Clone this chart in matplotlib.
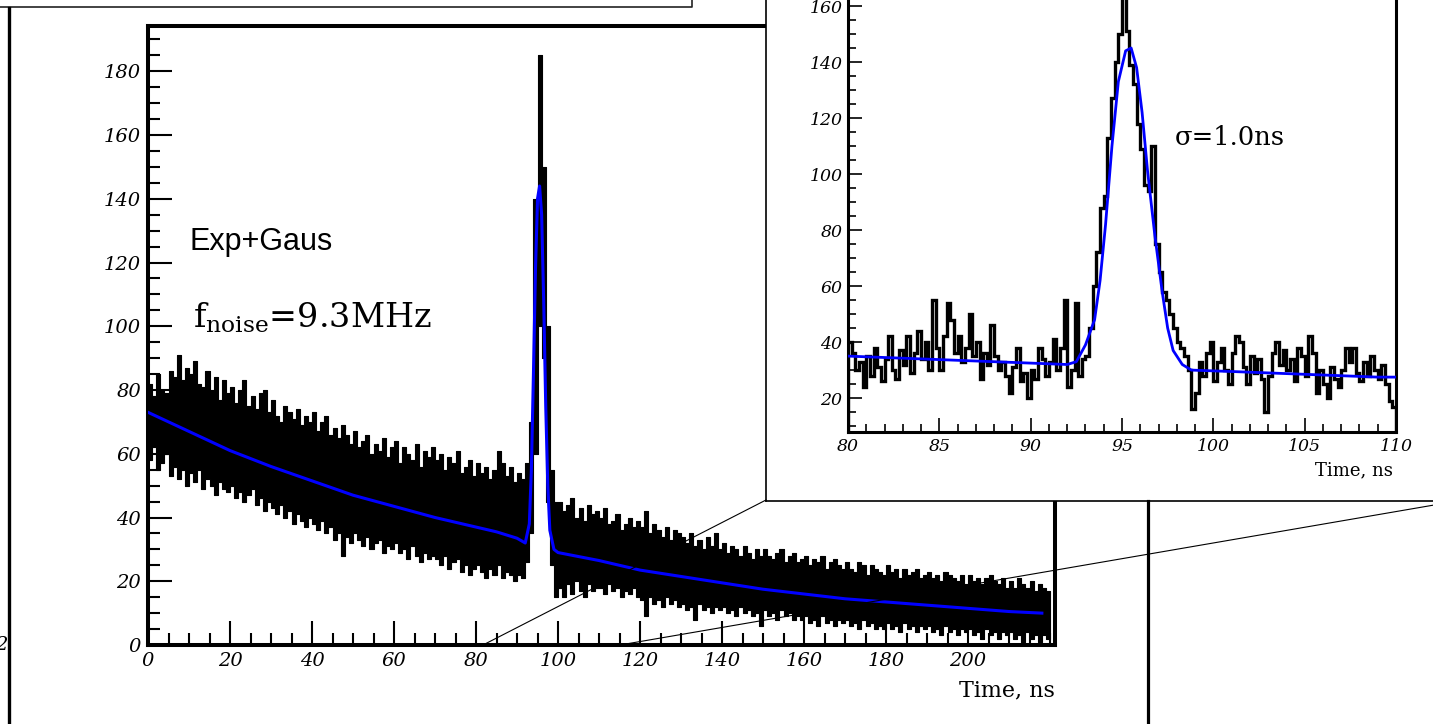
import numpy as np
import matplotlib
matplotlib.use("Agg")
import matplotlib.pyplot as plt
from matplotlib.lines import Line2D
from matplotlib.ticker import MultipleLocator, FixedLocator

# ---------------- data ----------------
# main histogram: upper / lower envelope of the noisy band, 1-ns bins from 0 ns
main_hi = [82, 78, 85, 80, 79, 86, 84, 91, 83, 87,
           85, 89, 82, 81, 86, 80, 84, 77, 83, 79,
           81, 76, 80, 83, 75, 78, 74, 79, 80, 73,
           77, 72, 70, 75, 73, 71, 74, 69, 72, 70,
           73, 67, 70, 72, 66, 68, 65, 69, 66, 63,
           67, 62, 64, 66, 60, 63, 61, 65, 59, 62,
           64, 57, 62, 60, 58, 63, 56, 61, 59, 62,
           58, 60, 55, 59, 57, 61, 54, 56, 58, 53,
           57, 54, 56, 52, 55, 61, 57, 53, 56, 51,
           54, 52, 57, 70, 140, 185, 150, 100, 55, 45,
           45, 42, 44, 46, 40, 43, 39, 44, 41, 42,
           40, 43, 38, 39, 41, 36, 38, 40, 37, 39,
           37, 42, 35, 38, 36, 34, 37, 33, 36, 35,
           34, 32, 35, 31, 33, 30, 34, 31, 35, 30,
           32, 29, 31, 30, 28, 31, 29, 27, 30, 28,
           30, 28, 27, 29, 30, 26, 28, 29, 26, 27,
           28, 25, 27, 26, 28, 24, 26, 27, 25, 24,
           26, 24, 23, 26, 25, 22, 25, 24, 23, 22,
           25, 23, 24, 21, 24, 22, 23, 24, 21, 22,
           23, 21, 22, 20, 23, 22, 21, 20, 22, 19,
           22, 20, 21, 19, 21, 22, 20, 19, 21, 18,
           20, 18, 21, 19, 18, 20, 17, 19, 18, 17]
main_lo = [58, 62, 55, 57, 60, 53, 56, 52, 55, 50,
           54, 51, 55, 49, 52, 50, 47, 51, 49, 48,
           50, 46, 48, 45, 47, 49, 44, 46, 42, 45,
           43, 41, 44, 40, 42, 38, 41, 39, 37, 40,
           38, 36, 39, 35, 37, 33, 35, 28, 34, 32,
           35, 33, 31, 34, 30, 32, 33, 29, 31, 30,
           32, 29, 30, 27, 31, 28, 26, 29, 27, 28,
           27, 25, 28, 24, 26, 27, 23, 25, 22, 24,
           25, 23, 21, 24, 22, 25, 21, 23, 22, 20,
           22, 21, 26, 35, 60, 100, 90, 45, 25, 15,
           18, 15, 19, 16, 20, 17, 15, 19, 17, 18,
           18, 16, 19, 17, 18, 15, 17, 16, 18, 15,
           14, 9, 15, 13, 14, 12, 15, 13, 14, 12,
           13, 11, 12, 8, 13, 11, 12, 10, 12, 11,
           12, 10, 11, 9, 12, 10, 11, 9, 10, 6,
           11, 9, 10, 8, 11, 9, 10, 8, 9, 8,
           9, 7, 8, 6, 9, 7, 8, 6, 8, 7,
           8, 6, 7, 5, 8, 6, 7, 5, 6, 5,
           7, 5, 6, 4, 7, 5, 6, 4, 6, 5,
           6, 4, 5, 3, 6, 4, 5, 3, 5, 4,
           5, 3, 4, 2, 5, 3, 4, 2, 4, 3,
           4, 2, 3, 1, 4, 2, 3, 1, 3, 2]
main_fit_t = [0, 10, 20, 30, 40, 50, 60, 70, 80, 85, 90, 92, 93, 93.5, 94, 94.5,
              95, 95.5, 96, 96.5, 97, 97.5, 98, 99, 100, 110, 120, 130, 140, 150,
              160, 170, 180, 190, 200, 210, 218]
main_fit_v = [73, 67, 61, 56, 51.5, 47, 43.5, 40, 37, 35.5, 33.5, 32, 38, 55, 85, 118,
              140, 144, 135, 108, 75, 50, 36, 30, 29, 26.5, 23.5, 21.5, 19.5, 17.5,
              16, 14.5, 13.5, 12.5, 11.5, 10.5, 10]
main_xticks = [0, 20, 40, 60, 80, 100, 120, 140, 160, 180, 200]
main_yticks = [0, 20, 40, 60, 80, 100, 120, 140, 160, 180]

# inset histogram: 0.2-ns bins from 80 ns to 110 ns
inset_start, inset_bin = 80.0, 0.2
inset_v = [40, 36, 30, 33, 24, 35, 28, 38, 31, 26,
           34, 42, 30, 27, 37, 32, 42, 29, 36, 44,
           34, 40, 30, 55, 38, 30, 42, 54, 48, 36,
           42, 33, 38, 50, 35, 40, 27, 36, 32, 46,
           35, 30, 33, 28, 22, 31, 38, 26, 29, 20,
           30, 27, 38, 34, 28, 33, 41, 30, 38, 55,
           24, 30, 54, 28, 34, 35, 45, 60, 72, 88,
           92, 113, 127, 140, 150, 163, 151, 139, 132, 118,
           109, 96, 94, 110, 75, 65, 58, 55, 50, 45,
           40, 38, 35, 30, 16, 22, 33, 28, 36, 40,
           26, 33, 38, 30, 25, 36, 42, 40, 31, 25,
           35, 29, 34, 27, 15, 28, 36, 40, 32, 37,
           30, 34, 26, 38, 35, 28, 42, 36, 22, 30,
           25, 20, 31, 27, 24, 30, 38, 33, 38, 29,
           26, 33, 28, 35, 30, 27, 32, 25, 19, 17]
inset_fit_t = [80, 82, 84, 86, 88, 90, 92, 92.5, 93, 93.5, 93.8, 94.1, 94.45, 94.8,
               95.2, 95.5, 95.8, 96.1, 96.4, 96.8, 97.2, 97.5, 97.8, 98.3, 98.8,
               101, 103, 105, 107, 109, 110]
inset_fit_v = [35, 34.5, 34, 33.5, 33, 32.5, 32, 33, 39, 48, 62, 82, 110, 133,
               144, 145, 138, 122, 101, 78, 58, 45, 37, 32, 30,
               29.5, 29, 28.5, 28, 27.5, 27.5]
inset_xticks = [80, 85, 90, 95, 100, 105, 110]
inset_yticks = [20, 40, 60, 80, 100, 120, 140, 160]

# ---------------- figure ----------------
W, H = 1433, 724
fig = plt.figure(figsize=(W / 100, H / 100), dpi=100)
plt.rcParams['mathtext.fontset'] = 'dejavuserif'
SERIF = ['DejaVu Serif']
SANS = ['Liberation Sans', 'DejaVu Sans']
BLUE = '#0000ff'


def fx(px):
    return px / W


def fy(py):
    return 1 - py / H


def rect(l, t, r, b):
    return [fx(l), fy(b), (r - l) / W, (b - t) / H]


# ---- main axes ----
ax = fig.add_axes(rect(148, 26, 1055, 645))
edges = np.arange(len(main_hi) + 1)
ax.fill_between(edges, np.append(main_lo, main_lo[-1]), np.append(main_hi, main_hi[-1]),
                step='post', color='black', lw=0.8, edgecolor='black')
ax.plot(main_fit_t, main_fit_v, color=BLUE, lw=2.2, zorder=3)
ax.set_xlim(0, 221.2)
ax.set_ylim(0, 194.2)
ax.xaxis.set_major_locator(FixedLocator(main_xticks))
ax.yaxis.set_major_locator(FixedLocator(main_yticks))
ax.xaxis.set_minor_locator(MultipleLocator(5))
ax.yaxis.set_minor_locator(MultipleLocator(5))
ax.tick_params(which='both', direction='in', top=False, right=False, width=1.5, color='black')
ax.tick_params(which='major', length=17, pad=5)
ax.tick_params(which='minor', length=8.5)
for lab in ax.get_xticklabels() + ax.get_yticklabels():
    lab.set_fontfamily(SERIF)
    lab.set_fontstyle('italic')
    lab.set_fontsize(14)
for s in ax.spines.values():
    s.set_linewidth(2.9)

fig.text(fx(1055), fy(690), 'Time, ns', ha='right', va='center', fontsize=16, family=SERIF)
fig.text(fx(190), fy(250), 'Exp+Gaus', ha='left', va='baseline', fontsize=22, family=SANS)
fig.text(fx(193), fy(328), r'f$_{\mathregular{noise}}$=9.3MHz', ha='left', va='baseline',
         fontsize=24, family=SERIF)

# ---- inset panel ----
panel = fig.add_axes(rect(766, -10, 1445, 501))
panel.set_facecolor('white')
panel.set_xticks([])
panel.set_yticks([])
for s in panel.spines.values():
    s.set_linewidth(1.2)

# ---- inset axes ----
ax2 = fig.add_axes(rect(848, -36, 1396, 432))
ax2.set_facecolor('none')
in_edges = inset_start + inset_bin * np.arange(len(inset_v) + 1)
ax2.stairs(inset_v, in_edges, color='black', lw=2.4)
ax2.plot(inset_fit_t, inset_fit_v, color=BLUE, lw=2.0, zorder=3)
ax2.set_xlim(80, 110)
ax2.set_ylim(7.9, 175)
ax2.xaxis.set_major_locator(FixedLocator(inset_xticks))
ax2.yaxis.set_major_locator(FixedLocator(inset_yticks))
ax2.xaxis.set_minor_locator(MultipleLocator(1))
ax2.yaxis.set_minor_locator(MultipleLocator(5))
ax2.tick_params(which='both', direction='in', top=False, right=False, width=1.2)
ax2.tick_params(which='major', length=10, pad=4)
ax2.tick_params(which='minor', length=5.5)
for lab in ax2.get_xticklabels() + ax2.get_yticklabels():
    lab.set_fontfamily(SERIF)
    lab.set_fontstyle('italic')
    lab.set_fontsize(12.5)
for s in ax2.spines.values():
    s.set_linewidth(2.2)

fig.text(fx(1393), fy(470), 'Time, ns', ha='right', va='center', fontsize=13, family=SERIF)
fig.text(fx(1175), fy(145), 'σ=1.0ns', ha='left', va='baseline', fontsize=18.5, family=SERIF)

# ---- frame decorations and zoom connectors ----
def fline(xs, ys, lw, color='black'):
    fig.add_artist(Line2D([fx(x) for x in xs], [fy(y) for y in ys], lw=lw, color=color,
                          transform=fig.transFigure, zorder=5))


fline([0, 692, 692], [7, 7, -2], 1.2, '#222222')
fline([9, 9], [8, 730], 2.4)
fline([1148, 1148], [501, 730], 2.3)
fline([483, 766], [645, 500], 0.8)
fline([620, 1440], [645, 504], 0.8)
fig.text(fx(-5), fy(645), '2', ha='left', va='center', fontsize=14, family=SERIF, style='italic')

fig.savefig('out.png', dpi=100)
